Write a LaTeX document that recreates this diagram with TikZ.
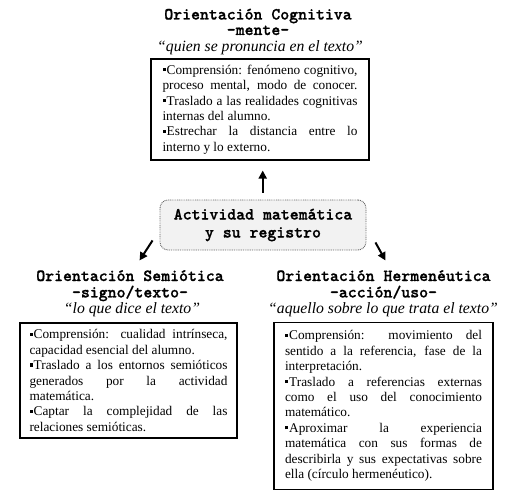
\documentclass[tikz,border=0pt]{standalone}
\usepackage{fontspec}
\setmainfont{Liberation Serif}
\newfontfamily\courb{lmmonolt10-bold}[Extension=.otf,FakeBold=1]
\usetikzlibrary{arrows.meta}
\newcommand\bul{\rule[3pt]{3.2pt}{3.2pt}\hspace{1pt}}
\newcommand\jline[1]{\makebox[\linewidth][s]{#1}\par}
\newcommand\lline[1]{\makebox[\linewidth][l]{#1}\par}
\newcommand\bodytext[2]{\parbox{#1}{\fontsize{13.3}{15.4}\selectfont\parindent=0pt\parskip=0pt #2}}
\newcommand\twoline[2]{\begin{tabular}[t]{@{}c@{}}#1\\#2\end{tabular}}
\tikzset{
  infobox/.style={draw=black, line width=1.1pt, inner sep=0pt, align=left},
  centerbox/.style={draw=black!60, dash pattern=on 0.9pt off 0.9pt, line width=0.9pt, fill=black!5, rounded corners=8pt, inner sep=0pt, align=center, font=\courb\fontsize{17}{18}\selectfont},
  ttitle/.style={anchor=base, inner sep=0pt, font=\courb\fontsize{17}{15.5}\selectfont},
  tquote/.style={anchor=base, inner sep=0pt, font=\itshape\fontsize{15.7}{18}\selectfont},
  arr/.style={line width=2pt, -{Triangle[length=8pt,width=8pt]}}
}
\begin{document}
\begin{tikzpicture}[x=1pt,y=-1pt]
\useasboundingbox (0,0) rectangle (513,497);
% headings
\node[ttitle] (h1) at (258,19.5) {\twoline{Orientación Cognitiva}{-mente-}};
\node[tquote] (h1q) at (260,52) {“quien se pronuncia en el texto”};
\node[ttitle] (h2) at (130,281) {\twoline{Orientación Semiótica}{-signo/texto-}};
\node[tquote] (h2q) at (132,313) {“lo que dice el texto”};
\node[ttitle] (h3) at (383.5,281) {\twoline{Orientación Hermenéutica}{-acción/uso-}};
\node[tquote] (h3q) at (383,313) {“aquello sobre lo que trata el texto”};
% boxes
\node[infobox, minimum width=218, minimum height=101] (top) at (260,109.5) {\bodytext{195pt}{%
\jline{\bul Comprensión: fenómeno cognitivo,}
\jline{proceso mental, modo de conocer.}
\jline{\bul Traslado a las realidades cognitivas}
\lline{internas del alumno.}
\jline{\bul Estrechar la distancia entre lo}
\lline{interno y lo externo.}}};
\node[infobox, minimum width=217, minimum height=115] (left) at (128.5,380.5) {\bodytext{198pt}{%
\jline{\bul Comprensión: cualidad intrínseca,}
\lline{capacidad esencial del alumno.}
\jline{\bul Traslado a los entornos semióticos}
\jline{generados por la actividad}
\lline{matemática.}
\jline{\bul Captar la complejidad de las}
\lline{relaciones semióticas.}}};
\node[infobox, minimum width=219, minimum height=167] (right) at (383.5,406) {\bodytext{197pt}{%
\jline{\bul Comprensión: movimiento del}
\jline{sentido a la referencia, fase de la}
\lline{interpretación.}
\jline{\bul Traslado a referencias externas}
\jline{como el uso del conocimiento}
\lline{matemático.}
\jline{\bul Aproximar la experiencia}
\jline{matemática con sus formas de}
\jline{describirla y sus expectativas sobre}
\lline{ella (círculo hermenéutico).}}};
\node[centerbox, minimum width=206, minimum height=50] (c) at (263,225) {Actividad matemática\\y su registro};
% arrows
\draw[arr] ([xshift=-0.3pt,yshift=7pt]c.north) -- ([xshift=2.7pt,yshift=-10pt]top.south);
\draw[arr] ([xshift=-7pt,yshift=10pt]c.south west) -- ([xshift=-20pt,yshift=-10pt]c.south west);
\draw[arr] ([xshift=9pt,yshift=8pt]c.south east) -- ([xshift=19pt,yshift=-10pt]c.south east);
\end{tikzpicture}
\end{document}
